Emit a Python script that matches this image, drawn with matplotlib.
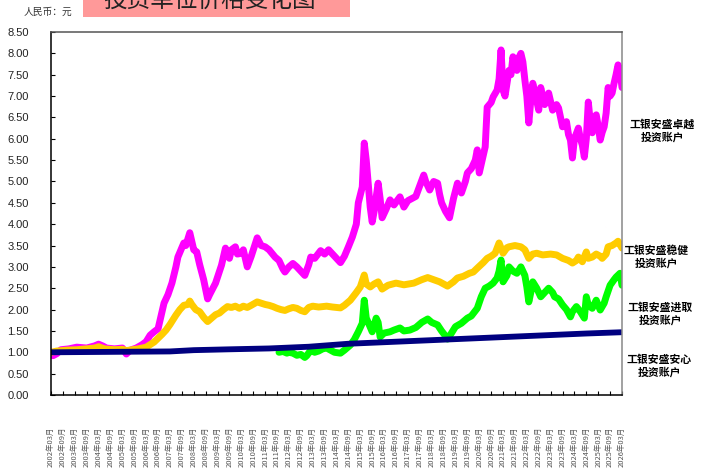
import matplotlib.pyplot as plt
from matplotlib.patches import Rectangle

plt.rcParams['font.family'] = ['Liberation Sans', 'Noto Sans CJK SC', 'DejaVu Sans']

# month offsets from 2002-03 and unit prices
zhuoyue_m = [0, 1, 3, 5, 9, 13, 18, 22, 24, 26, 28, 32, 36, 38, 40, 43, 46, 48, 50, 52, 54, 57, 59, 61, 63,
             64, 66, 67, 68, 70, 71, 72, 73.5, 75, 77, 79, 80, 83, 85, 86, 88, 89, 90, 91, 93, 94, 96, 97, 99,
             101, 104, 106, 108, 110, 113, 115, 117, 118, 120, 122, 124, 126, 128, 130, 131, 133, 136, 138, 140,
             142, 144, 146, 148, 150, 152, 154, 155, 157, 158, 159, 160, 161, 162, 163, 165, 166, 167, 169, 171,
             173, 176, 178, 180, 182, 184, 186, 188, 189, 191, 193, 195, 196, 197, 199, 201, 203, 205, 207, 209,
             210, 212, 214, 215, 216, 218, 219, 220, 222, 223, 225, 226, 227, 228, 229, 231, 232, 233, 234, 235,
             236, 237, 238, 239, 240, 241, 242, 243, 244, 246, 247, 249, 251, 253, 255, 256, 258, 260, 261, 262,
             263, 264, 266, 267, 268, 269, 270, 271, 272, 273, 274, 275, 276, 277, 278, 279, 280, 281, 282, 283,
             284, 285, 286, 287, 288]
zhuoyue_v = [1.00, 0.92, 0.97, 1.06, 1.08, 1.12, 1.10, 1.15, 1.19, 1.15, 1.10, 1.08, 1.10, 0.96, 1.05, 1.10, 1.18,
             1.25, 1.40, 1.48, 1.55, 2.15, 2.35, 2.62, 3.00, 3.23, 3.45, 3.56, 3.50, 3.80, 3.60, 3.40, 3.35, 3.05,
             2.70, 2.25, 2.35, 2.62, 2.90, 3.04, 3.44, 3.30, 3.20, 3.40, 3.47, 3.30, 3.32, 3.40, 3.00, 3.25, 3.68,
             3.50, 3.47, 3.40, 3.23, 3.15, 2.95, 2.88, 3.00, 3.08, 3.00, 2.90, 2.80, 3.05, 3.23, 3.20, 3.38, 3.30,
             3.40, 3.30, 3.20, 3.10, 3.25, 3.47, 3.70, 4.00, 4.50, 4.87, 5.90, 5.50, 4.96, 4.40, 4.05, 4.30, 4.96,
             4.60, 4.15, 4.35, 4.57, 4.45, 4.64, 4.40, 4.55, 4.60, 4.65, 4.90, 5.15, 5.00, 4.80, 5.00, 4.96, 4.70,
             4.50, 4.30, 4.15, 4.60, 4.96, 4.73, 5.00, 5.20, 5.30, 5.50, 5.74, 5.20, 5.60, 5.81, 6.74, 6.85, 6.98,
             7.14, 7.40, 8.08, 7.14, 7.00, 7.60, 7.50, 7.92, 7.70, 7.60, 7.90, 8.00, 7.80, 7.38, 7.00, 6.37, 6.90,
             7.30, 7.10, 6.67, 7.20, 6.80, 7.07, 6.67, 6.80, 6.72, 6.28, 6.40, 6.10, 5.97, 5.55, 6.00, 6.25, 6.00,
             5.85, 5.57, 6.00, 6.86, 6.40, 6.14, 6.50, 6.56, 6.30, 5.97, 6.15, 6.28, 6.60, 7.20, 7.00, 7.07, 7.30,
             7.50, 7.73, 7.60, 7.20]

wenjian_m = [0, 3, 8, 13, 18, 22, 24, 27, 32, 36, 38, 41, 44, 48, 50, 52, 54, 56, 58, 60, 63, 65, 67, 69, 70, 71,
             73, 75, 77, 79, 81, 83, 85, 87, 89, 91, 93, 95, 97, 99, 101, 104, 106, 108, 110, 112, 114, 116, 118,
             120, 122, 124, 126, 128, 130, 132, 135, 139, 142, 146, 148, 151, 154, 156, 158, 159, 161, 163, 165,
             167, 170, 174, 178, 183, 187, 190, 193, 196, 198, 200, 203, 205, 208, 211, 213, 215, 218, 220, 222,
             224, 226, 228, 230, 231, 234, 237, 239, 241, 243, 245, 248, 252, 255, 258, 261, 263, 265, 266, 268,
             270, 271, 273, 275, 277, 278, 280, 281, 283, 285, 286, 287, 288]
wenjian_v = [1.00, 1.03, 1.05, 1.06, 1.08, 1.10, 1.13, 1.08, 1.06, 1.07, 1.04, 1.06, 1.08, 1.12, 1.18, 1.24, 1.33,
             1.42, 1.52, 1.65, 1.87, 2.00, 2.10, 2.12, 2.20, 2.12, 2.00, 1.95, 1.82, 1.72, 1.80, 1.88, 1.92, 2.00,
             2.07, 2.05, 2.08, 2.03, 2.08, 2.05, 2.10, 2.18, 2.15, 2.12, 2.10, 2.07, 2.03, 2.00, 1.98, 2.02, 2.05,
             2.03, 1.98, 1.95, 2.05, 2.08, 2.06, 2.08, 2.06, 2.04, 2.10, 2.22, 2.40, 2.53, 2.81, 2.60, 2.53, 2.60,
             2.65, 2.48, 2.57, 2.62, 2.58, 2.62, 2.70, 2.75, 2.70, 2.65, 2.60, 2.55, 2.65, 2.74, 2.78, 2.85, 2.88,
             2.97, 3.10, 3.20, 3.25, 3.32, 3.56, 3.32, 3.45, 3.47, 3.50, 3.47, 3.40, 3.20, 3.30, 3.32, 3.28, 3.30,
             3.28, 3.20, 3.15, 3.09, 3.15, 3.23, 3.12, 3.35, 3.20, 3.23, 3.30, 3.25, 3.20, 3.30, 3.47, 3.50, 3.56,
             3.60, 3.52, 3.44]

jinqu_m = [115, 117, 119, 120, 122, 124, 126, 128, 129, 131, 133, 135, 137, 139, 141, 143, 146, 148, 151, 153, 155,
           157, 158, 159, 160, 162, 164, 165, 166, 168, 171, 173, 176, 178, 181, 184, 187, 190, 192, 195, 197, 199,
           200, 202, 204, 207, 210, 212, 215, 217, 219, 221, 223, 225, 226, 227, 228, 230, 231, 233, 235, 237, 239,
           240, 241, 242, 243, 245, 247, 249, 251, 253, 254, 256, 258, 260, 262, 263, 265, 267, 269, 270, 271, 273,
           275, 277, 279, 280, 282, 284, 285, 287, 288]
jinqu_v = [1.00, 1.02, 0.98, 1.00, 0.98, 0.93, 0.95, 0.88, 0.92, 1.05, 1.00, 1.03, 1.08, 1.10, 1.05, 1.00, 0.98,
           1.05, 1.17, 1.30, 1.48, 1.68, 2.22, 1.80, 1.70, 1.48, 1.80, 1.70, 1.36, 1.45, 1.48, 1.52, 1.57, 1.50,
           1.52, 1.58, 1.70, 1.78, 1.70, 1.64, 1.50, 1.38, 1.31, 1.45, 1.60, 1.68, 1.80, 1.85, 2.03, 2.30, 2.50,
           2.55, 2.62, 2.74, 2.90, 3.16, 2.65, 2.80, 3.00, 2.90, 2.85, 3.00, 2.80, 2.53, 2.18, 2.40, 2.65, 2.50,
           2.30, 2.40, 2.50, 2.40, 2.30, 2.25, 2.11, 2.00, 1.83, 1.95, 2.07, 1.95, 1.80, 2.30, 2.10, 2.03, 2.22,
           1.99, 2.15, 2.30, 2.57, 2.70, 2.76, 2.85, 2.57]

anxin_m = [0, 30, 60, 72, 90, 110, 130, 150, 180, 210, 240, 270, 288]
anxin_v = [1.00, 1.01, 1.02, 1.05, 1.07, 1.09, 1.13, 1.20, 1.26, 1.32, 1.38, 1.44, 1.47]

# x axis labels, every six months
tick_m = list(range(0, 289, 6))
tick_labels = []
for m in tick_m:
    year = 2002 + (m + 2) // 12
    month = (m + 2) % 12 + 1
    tick_labels.append('%d年%02d月' % (year, month))

y_ticks = [i * 0.5 for i in range(18)]

fig = plt.figure(figsize=(7.04, 4.72), dpi=100)
ax = fig.add_axes([51 / 704, 77 / 472, 571 / 704, 363 / 472])

ax.plot(zhuoyue_m, zhuoyue_v, color='#FF00FF', lw=5, solid_capstyle='round', solid_joinstyle='round')
ax.plot(wenjian_m, wenjian_v, color='#FFCC00', lw=5, solid_capstyle='round', solid_joinstyle='round')
ax.plot(jinqu_m, jinqu_v, color='#00FF00', lw=5, solid_capstyle='round', solid_joinstyle='round')
ax.plot(anxin_m, anxin_v, color='#000080', lw=4.2, solid_capstyle='butt')

ax.set_xlim(0, 288)
ax.set_ylim(0, 8.5)
ax.set_yticks(y_ticks)
ax.set_yticklabels(['%.2f' % v for v in y_ticks], fontsize=8, color='#222222')
ax.set_xticks(tick_m)
ax.set_xticklabels(tick_labels, rotation=90, fontsize=5.4, color='#555555',
                   family=['Noto Sans CJK SC', 'DejaVu Sans'])
ax.tick_params(axis='y', direction='in', length=3, pad=16)
ax.tick_params(axis='x', direction='in', length=3, pad=23)

ax.spines['left'].set_color('black')
ax.spines['bottom'].set_color('black')
ax.spines['top'].set_color('#555555')
ax.spines['right'].set_color('#888888')
for s in ax.spines.values():
    s.set_linewidth(1.1)

# series names on the right
names = ['工银安盛卓越\n投资账户', '工银安盛稳健\n投资账户', '工银安盛进取\n投资账户', '工银安盛安心\n投资账户']
name_x = [662, 656, 660, 659]
name_y = [131, 257, 314, 366]
for n, x, y in zip(names, name_x, name_y):
    fig.text(x / 704, 1 - y / 472, n, ha='center', va='center', fontsize=7.8, fontweight='bold',
             family=['Noto Sans CJK SC'], linespacing=1.2)

# title box, cut at the top of the picture
fig.add_artist(Rectangle((83 / 704, 1 - 16.5 / 472), 267 / 704, 16.5 / 472, transform=fig.transFigure,
                         facecolor='#FF9999', edgecolor='none'))
fig.text(210 / 704, 1 - 7 / 472, '投资单位价格变化图', ha='center', va='baseline', fontsize=17,
         family=['Noto Sans CJK SC'], color='#222222')
fig.text(48 / 704, 1 - 12 / 472, '人民币：元', ha='center', va='center', fontsize=7,
         family=['Noto Sans CJK SC'], color='#333333')

fig.savefig('out.png', dpi=100)
